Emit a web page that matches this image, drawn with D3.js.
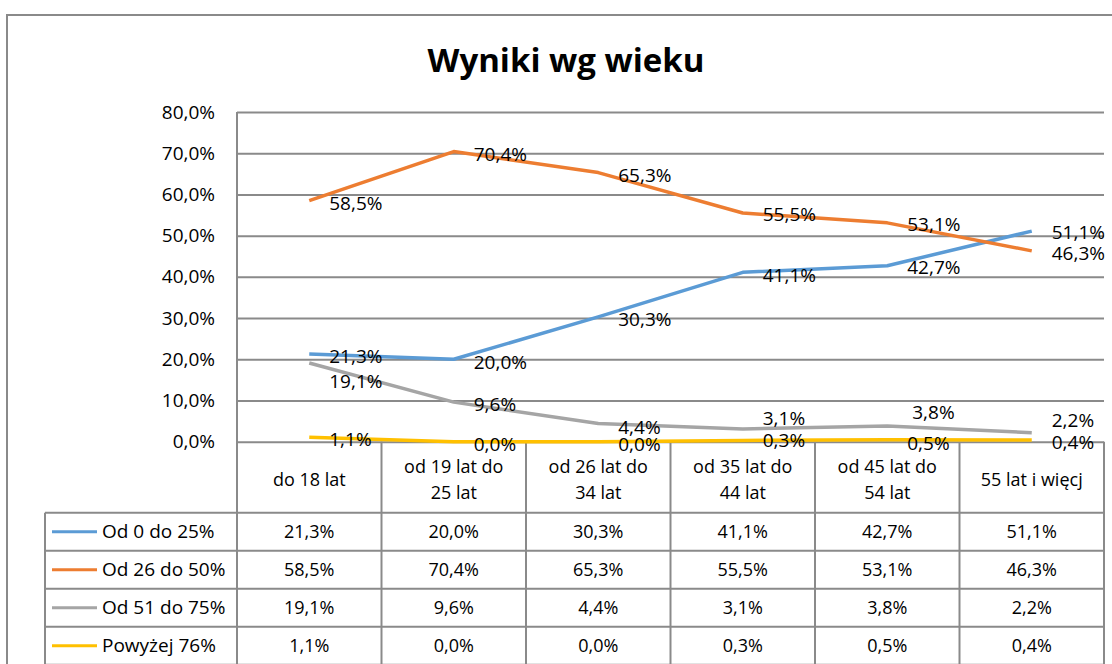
<!DOCTYPE html>
<html>
<head>
<meta charset="utf-8">
<script src="https://cdn.jsdelivr.net/npm/d3@7"></script>
<style>
  body { margin: 0; background: #fff; }
  text { font-family: "Open Sans", sans-serif; fill: #000; }
</style>
</head>
<body>
<div class="chart"></div>
<script>
// Data
var categories = ["do 18 lat", "od 19 lat do 25 lat", "od 26 lat do 34 lat", "od 35 lat do 44 lat", "od 45 lat do 54 lat", "55 lat i więcj"];
var seriesNames = ["Od 0 do 25%", "Od 26 do 50%", "Od 51 do 75%", "Powyżej 76%"];
var od0do25 = [21.3, 20.0, 30.3, 41.1, 42.7, 51.1];
var od26do50 = [58.5, 70.4, 65.3, 55.5, 53.1, 46.3];
var od51do75 = [19.1, 9.6, 4.4, 3.1, 3.8, 2.2];
var powyzej76 = [1.1, 0.0, 0.0, 0.3, 0.5, 0.4];
var yTicks = [0, 10, 20, 30, 40, 50, 60, 70, 80];

var seriesValues = [od0do25, od26do50, od51do75, powyzej76];
var colors = ["#5B9BD5", "#ED7D31", "#A5A5A5", "#FFC000"];

// label nudges (px) so the labels sit like in the original
var labelDy = [
  [0, 1, 0, 0, -1, -1],
  [0, 0, 0, -1, -1, 0],
  [15.5, 0, 1, -13.5, -16.5, -15],
  [0, 0, 0, -2.5, 1, 0]
];
var labelDx = [
  [0, 0, 0, 0, 0, 0],
  [0, 0, 0, 0, 0, 0],
  [0, 0, 0, 0, 5, 0],
  [0, 0, 0, 0, 0, 0]
];

var svgWidth = 1112;
var svgHeight = 664;
var plot = { left: 237, right: 1104, top: 112, bottom: 441.7 };
var rowH = 38;
var headerBottom = 512.7;
var legendLeft = 45;
var gridColor = "#8a8a8a";

var fmt = function(v) { return d3.format(".1f")(v).replace(".", ",") + "%"; };

var svg = d3.select(".chart")
  .append("svg")
  .attr("width", svgWidth)
  .attr("height", svgHeight);

// outer chart frame
svg.append("rect")
  .attr("x", 7)
  .attr("y", 15)
  .attr("width", 1300)
  .attr("height", 900)
  .attr("fill", "none")
  .attr("stroke", gridColor)
  .attr("stroke-width", 2);

// title
svg.append("text")
  .attr("x", 566)
  .attr("y", 72)
  .attr("text-anchor", "middle")
  .attr("font-size", "33px")
  .attr("font-weight", "bold")
  .text("Wyniki wg wieku");

// scales
var xScale = d3.scaleBand()
  .domain(categories)
  .range([plot.left, plot.right]);

var yScale = d3.scaleLinear()
  .domain([0, 80])
  .range([plot.bottom, plot.top]);

// y axis with gridlines
var leftAxis = d3.axisLeft(yScale)
  .tickValues(yTicks)
  .tickSize(-(plot.right - plot.left))
  .tickPadding(22)
  .tickFormat(fmt);

var yAxis = svg.append("g")
  .attr("transform", `translate(${plot.left}, 0)`)
  .call(leftAxis);

yAxis.select(".domain").remove();
yAxis.selectAll(".tick line")
  .attr("stroke", gridColor)
  .attr("stroke-width", 2);
yAxis.selectAll(".tick text")
  .attr("font-size", "19px")
  .attr("font-family", "Open Sans, sans-serif")
  .attr("fill", "#000");

// data table
var table = svg.append("g");
var colEdges = categories.map(d => xScale(d)).concat([plot.right]);
var tableBottom = headerBottom + rowH * seriesNames.length;

// plot left border / first column line
table.append("line")
  .attr("x1", plot.left).attr("x2", plot.left)
  .attr("y1", plot.top).attr("y2", tableBottom + 2)
  .attr("stroke", gridColor).attr("stroke-width", 2);

colEdges.slice(1).forEach(function(x) {
  table.append("line")
    .attr("x1", x).attr("x2", x)
    .attr("y1", plot.bottom).attr("y2", tableBottom + 2)
    .attr("stroke", gridColor).attr("stroke-width", 2);
});

table.append("line")
  .attr("x1", legendLeft).attr("x2", legendLeft)
  .attr("y1", headerBottom).attr("y2", tableBottom + 2)
  .attr("stroke", gridColor).attr("stroke-width", 2);

d3.range(seriesNames.length + 1).forEach(function(i) {
  table.append("line")
    .attr("x1", legendLeft).attr("x2", plot.right)
    .attr("y1", headerBottom + i * rowH).attr("y2", headerBottom + i * rowH)
    .attr("stroke", gridColor).attr("stroke-width", 2);
});

// header labels (wrapped after "do")
categories.forEach(function(c) {
  var cx = xScale(c) + xScale.bandwidth() / 2;
  var lines = c.startsWith("od") ? [c.slice(0, c.lastIndexOf(" do") + 3), c.slice(c.lastIndexOf(" do") + 4)] : [c];
  var midY = (plot.bottom + headerBottom) / 2 + 2;
  lines.forEach(function(l, j) {
    table.append("text")
      .attr("x", cx)
      .attr("y", midY + (j - (lines.length - 1) / 2) * 26 + 6.5)
      .attr("text-anchor", "middle")
      .attr("font-size", "18px")
      .text(l);
  });
});

// legend column and values
seriesNames.forEach(function(name, i) {
  var cy = headerBottom + i * rowH + rowH / 2;
  table.append("line")
    .attr("x1", 52).attr("x2", 97)
    .attr("y1", cy).attr("y2", cy)
    .attr("stroke", colors[i]).attr("stroke-width", 3);
  table.append("text")
    .attr("x", 102)
    .attr("y", cy + 6.5)
    .attr("font-size", "19px")
    .text(name);
  table.selectAll(null)
    .data(seriesValues[i])
    .enter()
    .append("text")
    .attr("x", (d, j) => xScale(categories[j]) + xScale.bandwidth() / 2)
    .attr("y", cy + 6.5)
    .attr("text-anchor", "middle")
    .attr("font-size", "18px")
    .text(d => fmt(d));
});

// lines
var line = d3.line()
  .x((d, j) => xScale(categories[j]) + xScale.bandwidth() / 2)
  .y(d => yScale(d));

seriesValues.forEach(function(vals, i) {
  svg.append("path")
    .datum(vals)
    .attr("d", line)
    .attr("fill", "none")
    .attr("stroke", colors[i])
    .attr("stroke-width", 3.5)
    .attr("stroke-linejoin", "round");
});

// data labels
seriesValues.forEach(function(vals, i) {
  svg.selectAll(null)
    .data(vals)
    .enter()
    .append("text")
    .attr("x", (d, j) => xScale(categories[j]) + xScale.bandwidth() / 2 + 20 + labelDx[i][j])
    .attr("y", (d, j) => yScale(d) + 2.5 + labelDy[i][j] + 6.7)
    .attr("font-size", "19px")
    .text(d => fmt(d));
});
</script>
</body>
</html>
